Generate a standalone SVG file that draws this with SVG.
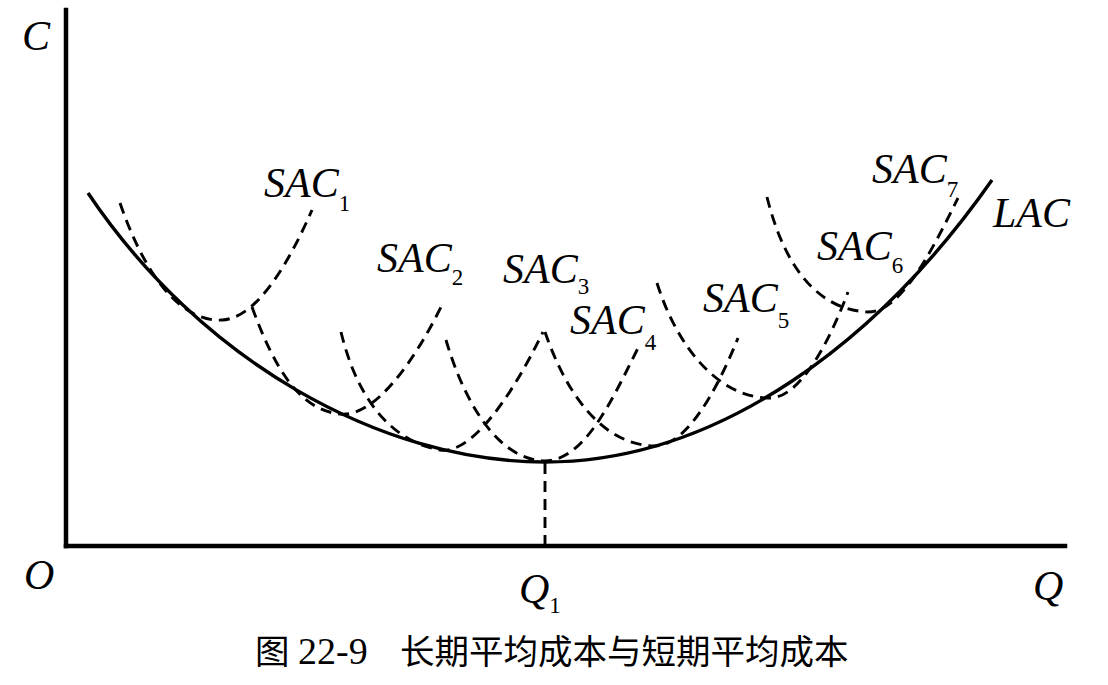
<svg xmlns="http://www.w3.org/2000/svg" width="1108" height="685" viewBox="0 0 1108 685">
<style>
.ax{stroke:#000;stroke-width:4.5;fill:none;stroke-linecap:square}
.lac{stroke:#000;stroke-width:3.4;fill:none}
.sac{stroke:#000;stroke-width:2.9;fill:none;stroke-dasharray:11 7}
.lb{font-family:"Liberation Serif","Times New Roman",serif;font-style:italic;font-size:42px;fill:#000}
.sb{font-family:"Liberation Serif","Times New Roman",serif;font-style:normal;font-size:23px;fill:#000}
.cap{font-family:"Liberation Serif","Noto Sans CJK SC",serif;font-size:34.5px;fill:#000}
</style>
<rect width="1108" height="685" fill="#fff"/>
<g id="axes">
<line class="ax" x1="66" y1="10" x2="66" y2="546"/>
<line class="ax" x1="66" y1="546" x2="1065" y2="546"/>
</g>
<g id="connectors">
<path id="LAC" class="lac" d="M88,193 C200,360 380,462 545,462 C720,462 880,340 992,180"/>
<path id="SAC1-curve" class="sac" d="M120,203 C150,290 188,322 222,320 C258,318 290,260 312,210"/>
<path id="SAC2-curve" class="sac" d="M252,307 C275,370 300,410 340,414 C375,418 415,360 442,305"/>
<path id="SAC3-curve" class="sac" d="M341,332 C355,390 385,440 440,450 C470,455 510,400 543,332"/>
<path id="SAC4-curve" class="sac" d="M446,340 C462,395 495,460 545,461 C585,460 612,400 638,348"/>
<path id="SAC5-curve" class="sac" d="M545,332 C565,390 600,445 655,446 C685,446 715,395 738,338"/>
<path id="SAC6-curve" class="sac" d="M657,283 C678,350 720,397 768,398 C800,400 830,340 848,292"/>
<path id="SAC7-curve" class="sac" d="M767,197 C785,270 820,310 868,312 C900,312 930,255 958,198"/>
<line id="Q1-drop" class="sac" x1="545" y1="463" x2="545" y2="546"/>
</g>
<g id="axis-labels">
<text class="lb" x="22" y="50">C</text>
<text class="lb" x="24" y="589">O</text>
<text class="lb" x="1033" y="600">Q</text>
<text class="lb" x="519" y="603">Q<tspan class="sb" dy="10">1</tspan></text>
</g>
<g id="curve-labels">
<text class="lb" x="993" y="227">LAC</text>
<text class="lb" x="264" y="197">SAC<tspan class="sb" dy="14">1</tspan></text>
<text class="lb" x="377" y="272">SAC<tspan class="sb" dy="13">2</tspan></text>
<text class="lb" x="503" y="283">SAC<tspan class="sb" dy="11">3</tspan></text>
<text class="lb" x="570" y="334">SAC<tspan class="sb" dy="16">4</tspan></text>
<text class="lb" x="703" y="312">SAC<tspan class="sb" dy="16">5</tspan></text>
<text class="lb" x="817" y="260">SAC<tspan class="sb" dy="13">6</tspan></text>
<text class="lb" x="872" y="183">SAC<tspan class="sb" dy="14">7</tspan></text>
</g>
<g id="caption">
<text class="cap" y="664"><tspan x="255">图</tspan><tspan x="298" font-size="38">22-9</tspan><tspan x="400">长期平均成本与短期平均成本</tspan></text>
</g>
</svg>
